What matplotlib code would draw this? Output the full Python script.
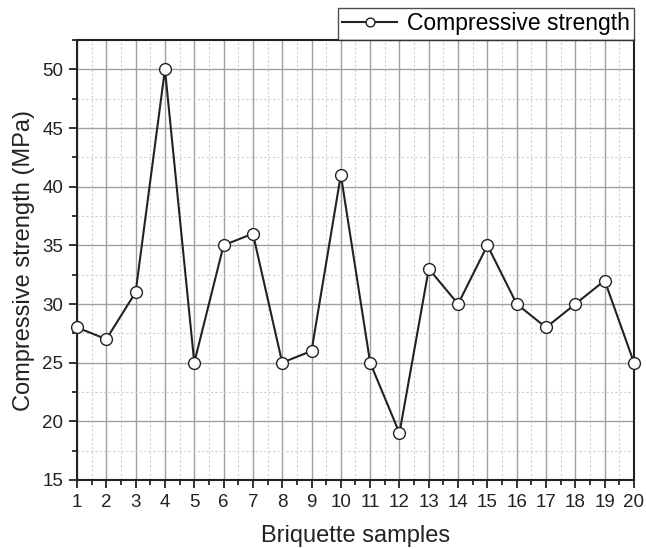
import matplotlib.pyplot as plt
from matplotlib.ticker import MultipleLocator

plt.rcParams["font.family"] = ["Liberation Sans", "DejaVu Sans"]

samples = list(range(1, 21))
strength = [28, 27, 31, 50, 25, 35, 36, 25, 26, 41, 25, 19, 33, 30, 35, 30, 28, 30, 32, 25]

fig = plt.figure(figsize=(6.46, 5.49), dpi=100)
ax = fig.add_axes([0.1192, 0.1257, 0.8622, 0.8014])

ax.plot(samples, strength, color="#222222", lw=1.5, marker="o", ms=8.5,
        mfc="white", mec="#222222", mew=1.0, label="Compressive strength",
        clip_on=False, zorder=3)

ax.set_xlim(1, 20)
ax.set_ylim(15, 52.5)
ax.xaxis.set_major_locator(MultipleLocator(1))
ax.xaxis.set_minor_locator(MultipleLocator(0.5))
ax.yaxis.set_major_locator(MultipleLocator(5))
ax.yaxis.set_minor_locator(MultipleLocator(2.5))

ax.grid(which="major", color="#a0a0a0", lw=1.0)
ax.grid(which="minor", color="#d0d0d0", lw=0.8, ls=(0, (2, 2)))

ax.tick_params(which="major", direction="out", length=6, width=1.3,
               labelsize=13.5, colors="#222222", top=False, right=False, pad=4)
ax.tick_params(which="minor", direction="out", length=3.5, width=1.1,
               top=False, right=False)
for s in ax.spines.values():
    s.set_linewidth(1.5)
    s.set_color("#222222")

ax.set_xlabel("Briquette samples", fontsize=17, color="#222222", labelpad=10)
ax.set_ylabel("Compressive strength (MPa)", fontsize=17, color="#222222", labelpad=5)

leg = ax.legend(loc="lower right", bbox_to_anchor=(1.0, 1.0), borderaxespad=0,
                fontsize=16.5, frameon=True, fancybox=False, handlelength=2.4,
                handletextpad=0.4, borderpad=0.2, markerscale=0.75)
leg.get_frame().set_edgecolor("#222222")
leg.get_frame().set_linewidth(1.0)

fig.savefig("out.png", dpi=100)
